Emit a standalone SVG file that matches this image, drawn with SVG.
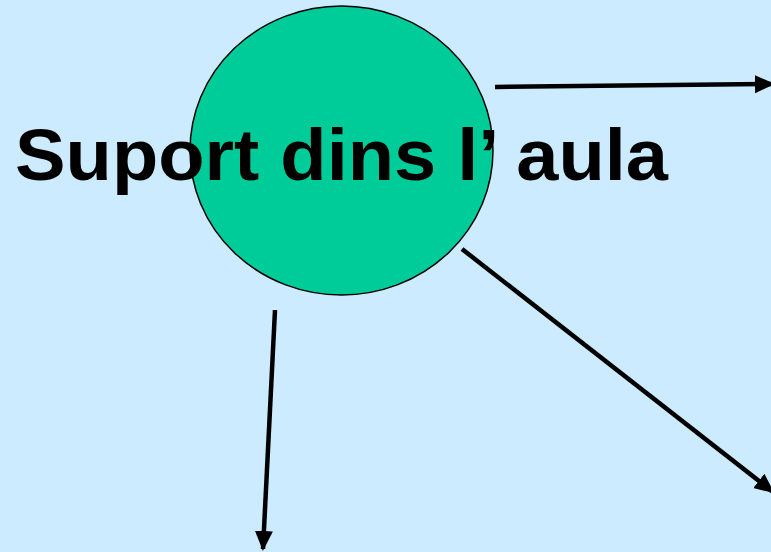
<svg xmlns="http://www.w3.org/2000/svg" width="771" height="552" viewBox="0 0 771 552">
<style>
.conn{stroke:#000;stroke-width:4.5;fill:none;marker-end:url(#ah)}
.lbl{font-family:"Comic Sans MS","Liberation Sans",sans-serif;font-weight:bold;font-size:72px;fill:#000}
</style>
<defs>
<marker id="ah" markerUnits="userSpaceOnUse" markerWidth="20" markerHeight="20" viewBox="0 0 20 20" refX="18" refY="10" orient="auto">
<path d="M0,1 L20,10 L0,19 Z" fill="#000"/>
</marker>
</defs>
<rect width="771" height="552" fill="#CCEBFF"/>
<g id="connectors">
<line class="conn" x1="495" y1="87" x2="773" y2="84"/>
<line class="conn" x1="462" y1="249" x2="773" y2="492"/>
<line class="conn" x1="275" y1="310" x2="263" y2="549"/>
</g>
<g id="node-suport">
<ellipse cx="341.5" cy="150.5" rx="151.5" ry="144.5" fill="#00CC99" stroke="#000" stroke-width="1.5"/>
<text class="lbl" x="15" y="180" textLength="653" lengthAdjust="spacingAndGlyphs">Suport dins l’ aula</text>
</g>
</svg>
